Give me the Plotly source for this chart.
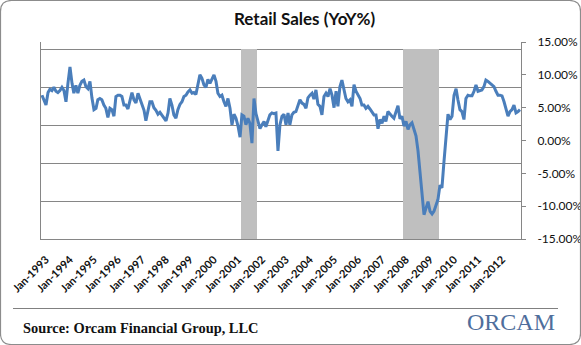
import pandas as pd
import plotly.graph_objects as go

# Monthly retail sales, year-over-year % change (Nov 1992 - Nov 2012)
start_month = "1992-11-01"
yoy_pct = [
    6.9, 6.0, 5.4, 7.3, 7.8, 7.6, 8.1, 7.5, 7.3, 7.6,
    8.1, 7.6, 5.9, 8.7, 11.2, 8.7, 7.2, 8.4, 7.2, 8.4,
    9.0, 9.2, 8.2, 7.9, 9.0, 6.5, 4.7, 4.9, 6.2, 6.4,
    6.2, 5.4, 4.9, 3.5, 4.9, 4.7, 3.7, 6.7, 6.9, 6.9,
    6.7, 5.4, 5.4, 4.8, 6.2, 7.3, 6.2, 5.7, 7.2, 6.4,
    5.4, 4.6, 3.0, 4.4, 5.9, 5.9, 5.0, 4.6, 4.0, 4.3,
    3.9, 3.4, 3.0, 4.2, 6.4, 5.4, 3.9, 3.4, 4.7, 5.5,
    5.9, 6.7, 6.9, 7.4, 7.7, 7.2, 7.3, 7.0, 8.7, 10.0,
    9.5, 8.5, 8.1, 9.3, 8.7, 9.3, 10.0, 9.0, 7.2, 6.7,
    6.9, 5.9, 5.2, 6.4, 4.9, 2.4, 4.0, 3.4, 2.2, 0.5,
    3.9, 3.7, 2.4, 3.4, 2.6, -0.4, 6.4, 4.1, 2.9, 1.8,
    2.4, 2.9, 2.1, 2.9, 3.9, 4.2, 4.1, 4.2, -1.6, 2.4,
    3.7, 4.0, 2.4, 4.2, 2.4, 3.9, 4.3, 4.4, 5.2, 6.2,
    5.7, 5.5, 4.9, 6.5, 6.9, 7.2, 6.3, 7.7, 5.5, 5.2,
    3.9, 6.7, 7.2, 6.7, 7.9, 6.9, 5.0, 7.5, 5.2, 8.2,
    9.2, 7.7, 6.4, 5.9, 6.2, 5.2, 8.5, 7.5, 6.9, 6.4,
    5.4, 5.4, 4.9, 5.2, 4.8, 4.4, 3.9, 3.9, 1.8, 3.2,
    2.6, 3.7, 2.9, 4.4, 4.0, 3.7, 3.4, 4.4, 5.3, 3.3,
    3.7, 2.2, 2.9, 1.7, 2.4, 2.7, 1.7, 0.7, -1.5, -4.5,
    -8.0, -11.3, -10.3, -9.3, -10.8, -11.2, -10.8, -10.0, -9.0, -6.8,
    -7.2, -3.2, 1.3, 4.0, 3.2, 3.7, 6.9, 7.9, 6.2, 4.7,
    4.4, 3.2, 6.4, 6.9, 6.8, 6.8, 7.5, 8.45, 7.5, 7.6,
    7.7, 8.2, 9.2, 9.0, 8.7, 8.4, 8.2, 7.5, 6.9, 6.9,
    6.8, 5.9, 5.0, 3.7, 4.4, 4.7, 5.4, 4.2, 4.4, 4.7,
]
months = pd.date_range(start_month, periods=len(yoy_pct), freq="MS")

# Recession periods (first month, last month)
recessions = [("2001-03-01", "2001-10-01"), ("2007-12-01", "2009-05-01")]

# Axis labels
year_ticks = pd.date_range("1993-01-01", "2012-01-01", freq="YS")
pct_ticks = [-15, -10, -5, 0, 5, 10, 15]

rec_x = []
for first, last in recessions:
    rec_x.extend(pd.date_range(first, last, freq="MS"))
rec_y = [1.0] * len(rec_x)

# Plot-area geometry in pixels (used to place decorations in paper units)
W, H = 581, 345
L, R, T, B = 41, 60, 42, 106
PW, PH = W - L - R, H - T - B


def px(x):
    return (x - L) / PW


def py(y):
    return (H - B - y) / PH


GRID = "#868686"
LINE_BLUE = "#4A7EBB"

fig = go.Figure()

# Recession shading as columns on the primary (hidden) axis
fig.add_trace(go.Bar(
    x=rec_x, y=rec_y, yaxis="y",
    width=31 * 24 * 3600 * 1000,
    marker=dict(color="#BFBFBF", line=dict(width=0)),
    hoverinfo="skip",
))

fig.add_trace(go.Scatter(
    x=months, y=yoy_pct, yaxis="y2", mode="lines",
    line=dict(color=LINE_BLUE, width=3),
))

x_start = months[0] - pd.Timedelta(days=15)
x_end = months[-1] + pd.Timedelta(days=15)

fig.update_layout(
    width=W, height=H,
    margin=dict(l=L, r=R, t=T, b=B, pad=0, autoexpand=False),
    paper_bgcolor="white", plot_bgcolor="white",
    showlegend=False,
    bargap=0,
    xaxis=dict(
        type="date", range=[x_start, x_end], automargin=False,
        tickvals=list(year_ticks), tickformat="%b-%Y",
        tickangle=-45, ticks="", showgrid=False,
        showline=True, linecolor=GRID, linewidth=1,
        tickfont=dict(family="Lato", size=11, color="#111111", weight="bold"),
        ticklabelstandoff=9,
    ),
    yaxis=dict(
        range=[0, (PH) / 190.0], dtick=0.2, tick0=0, automargin=False,
        showgrid=True, gridcolor=GRID, gridwidth=1,
        showticklabels=False, ticks="", zeroline=False,
        showline=True, linecolor=GRID, linewidth=1,
    ),
    yaxis2=dict(
        overlaying="y", side="right", range=[-15, 15], automargin=False,
        tickvals=pct_ticks, ticktext=[f"{v:.2f}%" for v in pct_ticks],
        showgrid=False, zeroline=False,
        showline=True, linecolor=GRID, linewidth=1,
        ticks="outside", ticklen=4, tickcolor=GRID,
        tickfont=dict(family="Lato", size=12, color="#111111"),
        ticklabelstandoff=9,
    ),
)

# Rounded outer frame
x0, y0, x1, y1, r = 0.5, 0.5, W - 0.5, H - 0.5, 11
pts = [
    ("M", x0 + r, y0), ("L", x1 - r, y0), ("Q", x1, y0, x1, y0 + r),
    ("L", x1, y1 - r), ("Q", x1, y1, x1 - r, y1), ("L", x0 + r, y1),
    ("Q", x0, y1, x0, y1 - r), ("L", x0, y0 + r), ("Q", x0, y0, x0 + r, y0),
]
path = ""
for p in pts:
    cmd, coords = p[0], p[1:]
    path += cmd + " " + " ".join(
        f"{px(coords[i]):.5f},{py(coords[i + 1]):.5f}" for i in range(0, len(coords), 2)
    ) + " "
path += "Z"

fig.add_shape(type="path", path=path, xref="paper", yref="paper",
              line=dict(color="#8C8C8C", width=1.2))

# Footer separator
fig.add_shape(type="line", xref="paper", yref="paper",
              x0=px(13), x1=px(558), y0=py(308.5), y1=py(308.5),
              line=dict(color="#808080", width=1))

fig.add_annotation(
    text="<b>Retail Sales (YoY%)</b>", xref="paper", yref="paper",
    x=px(304), y=py(18), xanchor="center", yanchor="middle", showarrow=False,
    font=dict(family="Lato", size=17, color="#111111"),
)

fig.add_annotation(
    text="<b>Source: Orcam Financial Group, LLC</b>", xref="paper", yref="paper",
    x=px(21), y=py(328), xanchor="left", yanchor="middle", showarrow=False,
    font=dict(family="Liberation Serif", size=14.4, color="#111111"),
)

# Logo wordmark
fig.add_annotation(
    text="ORCAM", xref="paper", yref="paper",
    x=px(511), y=py(322), xanchor="center", yanchor="middle", showarrow=False,
    font=dict(family="Liberation Serif", size=24, color="#4F6E9C"),
)

fig.write_html("out.html")
